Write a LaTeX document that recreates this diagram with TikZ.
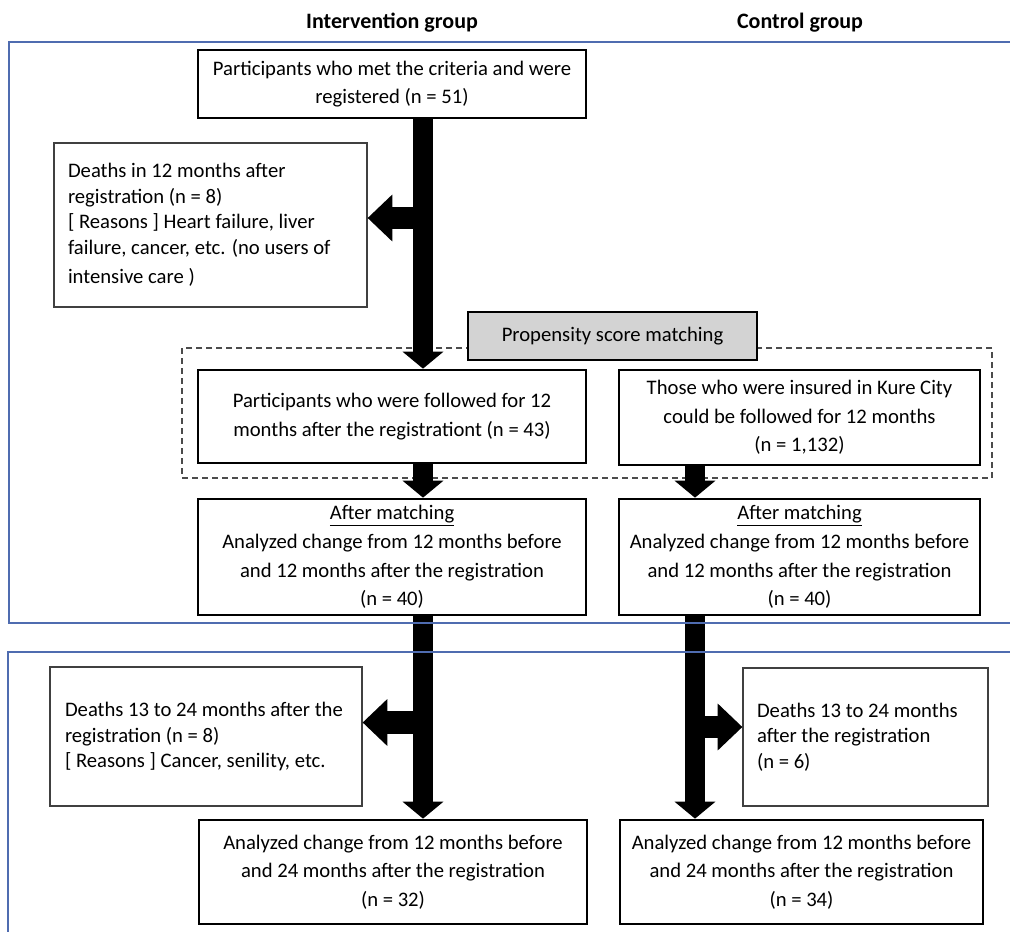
\documentclass[tikz,border=0pt]{standalone}
\usepackage{fontspec}
\setmainfont{Carlito}
\definecolor{frameblue}{HTML}{4F6CB0}
\definecolor{psmgray}{HTML}{D3D3D3}
\usetikzlibrary{arrows.meta}

\begin{document}
\begin{tikzpicture}[x=0.75pt, y=-0.75pt,
  mainbox/.style={draw, line width=2pt, fill=white, align=center, inner sep=0pt,
    minimum width=291pt, font=\fontsize{15.5}{21.4}\selectfont},
  deathbox/.style={draw=black!75, line width=0.9pt, fill=white, align=flush left,
    inner ysep=0pt, font=\fontsize{15.5}{19.1}\selectfont},
  downarrow/.style={line width=15pt, -{Triangle[width=30pt,length=12.75pt]}},
  sidearrow/.style={line width=17pt, -{Triangle[width=34pt,length=18.5pt]}},
  dashbox/.style={draw=black!70, line width=0.8pt, dash pattern=on 4.5pt off 3pt},
  grouphead/.style={font=\fontsize{16.5}{19}\selectfont\bfseries}]
  \useasboundingbox (0,0) rectangle (1010,932);

  % Group headings
  \node[grouphead] (headI) at (392,23) {Intervention group};
  \node[grouphead] (headC) at (800,23) {Control group};

  % Arrow columns
  \coordinate (shaftL) at (423,0);
  \coordinate (shaftR) at (695,0);

  % First 12 months
  \node[mainbox, minimum height=51pt] (reg) at (392,84)
    {Participants who met the criteria and were\\registered (n = 51)};
  \node[deathbox, text width=213.75pt, inner xsep=10.5pt, minimum height=123pt] (death1) at (210.5,225)
    {Deaths in 12 months after\\registration (n = 8)\\{[} Reasons ] Heart failure, liver\\failure, cancer, etc. (no users of\\[3pt]intensive care )};

  % Matching
  \draw[dashbox] (182,348) rectangle (992,478);
  \node[mainbox, fill=psmgray, minimum width=216.75pt, minimum height=36pt] (psm) at (612.5,336)
    {Propensity score matching};
  \node[mainbox, minimum height=69.75pt] (follow) at (392,416.5)
    {Participants who were followed for 12\\months after the registrationt (n = 43)};
  \node[mainbox, minimum width=270.75pt, minimum height=71.25pt] (insured) at (799.5,417.5)
    {Those who were insured in Kure City\\could be followed for 12 months\\(n = 1,132)};

  \node[mainbox, minimum height=87pt] (matchL) at (392,557)
    {\underline{After matching}\\Analyzed change from 12 months before\\and 12 months after the registration\\(n = 40)};
  \node[mainbox, minimum width=270.75pt, minimum height=87pt] (matchR) at (799.5,557)
    {\underline{After matching}\\Analyzed change from 12 months before\\and 12 months after the registration\\(n = 40)};

  % 13 to 24 months
  \node[deathbox, text width=211.5pt, inner xsep=11.25pt, minimum height=104.25pt] (death2) at (206,736.5)
    {Deaths 13 to 24 months after the\\registration (n = 8)\\{[} Reasons ] Cancer, senility, etc.};
  \node[deathbox, text width=162.75pt, inner xsep=10.5pt, minimum height=103.5pt] (death3) at (865.5,737)
    {Deaths 13 to 24 months\\after the registration\\(n = 6)};

  \node[mainbox, minimum height=78pt] (finalL) at (393,872)
    {Analyzed change from 12 months before\\and 24 months after the registration\\(n = 32)};
  \node[mainbox, minimum width=272.25pt, minimum height=78pt] (finalR) at (801.5,872)
    {Analyzed change from 12 months before\\and 24 months after the registration\\(n = 34)};

  % Block arrows
  \coordinate (tip1) at ([yshift=5.25pt]death1.east);
  \coordinate (tip2) at ([yshift=10.5pt]death2.east);
  \coordinate (tip3) at ([yshift=7.5pt]death3.west);
  \draw[downarrow] (reg.south -| shaftL) -- (follow.north -| shaftL);
  \draw[sidearrow] (tip1 -| shaftL) -- (tip1);
  \draw[downarrow] (follow.south -| shaftL) -- (matchL.north -| shaftL);
  \draw[downarrow] (insured.south -| shaftR) -- (matchR.north -| shaftR);
  \draw[downarrow] (matchL.south -| shaftL) -- (finalL.north -| shaftL);
  \draw[downarrow] (matchR.south -| shaftR) -- (finalR.north -| shaftR);
  \draw[sidearrow] (tip2 -| shaftL) -- (tip2);
  \draw[sidearrow] (tip3 -| shaftR) -- (tip3);

  % Period frames
  \draw[frameblue, line width=1pt] (1010,42) -- (9,42) -- (9,623) -- (1010,623);
  \draw[frameblue, line width=1pt] (1010,652) -- (8,652) -- (8,932);
\end{tikzpicture}
\end{document}
